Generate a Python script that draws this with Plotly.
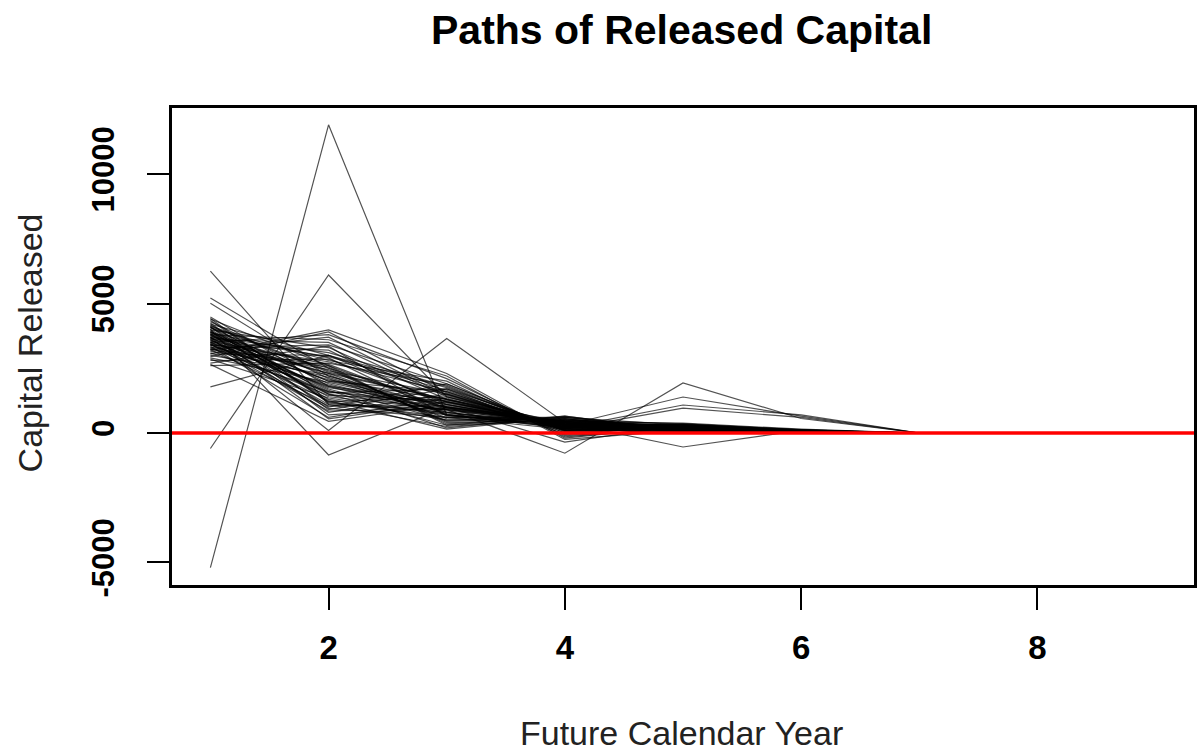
import plotly.graph_objects as go

# Future calendar years
years = [1, 2, 3, 4, 5, 6, 7, 8, 9]

# Capital released per simulated path, one list per year (same path index across lists)
year1 = [-5200, -600, 6250, 1780, 3700, 4000, 5210, 5010, 3600, 3900, 3400, 4100, 3500, 3800,
         4480, 4400, 4350, 4300, 4250, 4200, 4180, 4150, 4100, 4080, 4050, 4000, 3980, 3950, 3920,
         3900, 3870, 3850, 3820, 3800, 3780, 3750, 3720, 3700, 3680, 3650, 3620, 3600, 3580, 3550,
         3520, 3500, 3480, 3450, 3420, 3400, 3380, 3350, 3320, 3300, 3280, 3250, 3220, 3200, 3150,
         3100, 3050, 3000, 2950, 2900, 2800, 2700, 2600, 4420, 4120, 3880, 3660, 3440, 3240, 3060,
         2850, 2650]
year2 = [11900, 6100, 1100, 3000, 100, -850, 2500, 2200, 1500, 2000, 1800, 1200, 2300, 1600,
         1800, 2600, 1200, 2100, 900, 3000, 1500, 2400, 700, 1900, 2800, 1300, 3300, 1000, 2200,
         1650, 2900, 550, 2000, 3600, 1400, 2500, 800, 3100, 1750, 2300, 1100, 3500, 1550, 2650,
         950, 3800, 2050, 1250, 2750, 1850, 3200, 600, 2450, 1450, 3400, 2150, 1050, 3700, 2550,
         1600, 3000, 2250, 3900, 1950, 2850, 3350, 2700, 1150, 2350, 1700, 2950, 850, 2600, 3980,
         1350, 450]
year3 = [700, 1400, 900, 1500, 3650, 1000, 1200, 800, 900, 1100, 700, 600, 1300, 1000,
         1200, 900, 1400, 600, 1700, 1100, 300, 1500, 1000, 800, 2000, 500, 1300, 1900, 1000,
         200, 700, 1200, 1600, 2200, 900, 400, 1500, 1800, 1100, 700, 250, 1400, 1700, 950,
         600, 2100, 1300, 150, 1600, 850, 1000, 1350, 450, 1250, 1900, 750, 1050, 1450, 350,
         1150, 1750, 550, 1550, 1000, 1200, 650, 1850, 800, 1300, 500, 1650, 950, 300, 2300,
         700, 1100]
year4 = [250, 350, 300, 200, 400, 300, 300, 200, -780, 300, 200, 150, 400, -350,
         300, 450, 150, 600, 200, 350, 500, 100, 400, 250, -150, 550, 300, 50, 450,
         650, 200, 350, 100, -250, 400, 500, 150, 0, 300, 450, 550, 250, -50, 350,
         500, -100, 200, 600, 100, 400, 300, 150, 550, 250, 50, 450, 350, 200, 600,
         300, 100, 500, 150, 400, 250, 450, 0, 350, 200, 550, 100, 400, 650, -200,
         300, 250]
year5 = [150, 200, 100, 150, 200, 100, 100, 150, 1930, 1390, 1080, 960, -540, 300,
         150, 250, 100, 300, 200, 50, 350, 180, 120, 280, 220, 80, 320, 160, 240,
         60, 200, 140, 260, 100, 300, 180, 40, 220, 160, 380, 120, 240, 90, 200,
         270, 150, 330, 110, 190, 230, 70, 290, 170, 130, 250, 210, 60, 310, 150,
         180, 100, 270, 220, 140, 350, 80, 200, 160, 240, 120, 300, 190, 90, 260,
         130, 210]
year6 = [50, 50, 30, 50, 50, 0, 50, 0, 560, 650, 700, 600, 100, 50,
         40, 80, 20, 100, 60, 10, 120, 50, 30, 90, 70, 20, 110, 40, 80,
         10, 60, 30, 90, 20, 100, 50, 0, 70, 40, 150, 30, 80, 20, 60,
         90, 40, 120, 30, 50, 70, 10, 100, 50, 30, 80, 60, 10, 110, 40,
         50, 20, 90, 70, 40, 130, 20, 60, 50, 80, 30, 100, 60, 20, 90,
         30, 70]
year7 = [0, 0, 0, 0, 0, 0, 0, 0, 0, 0, 0, 0, 0, 0, 0, 0, 0, 0, 0, 0, 0, 0, 0, 0, 0, 0,
         0, 0, 0, 0, 0, 0, 0, 0, 0, 0, 0, 0, 0, 0, 0, 0, 0, 0, 0, 0, 0, 0, 0, 0, 0, 0,
         0, 0, 0, 0, 0, 0, 0, 0, 0, 0, 0, 0, 0, 0, 0, 0, 0, 0, 0, 0, 0, 0, 0, 0]
year8 = list(year7)
year9 = list(year7)

x_ticks = [2, 4, 6, 8]
y_ticks = [-5000, 0, 5000, 10000]
y_tick_labels = ["-5000", "0", "5000", "10000"]

title_text = "Paths of Released Capital"
x_title = "Future Calendar Year"
y_title = "Capital Released"

FONT = "Liberation Sans, Arial, Helvetica, sans-serif"

fig = go.Figure()
all_years = [year1, year2, year3, year4, year5, year6, year7, year8, year9]
for i in range(len(year1)):
    path = [col[i] for col in all_years]
    fig.add_trace(go.Scatter(
        x=years, y=path, mode="lines",
        line=dict(color="rgba(0,0,0,0.68)", width=1.2),
        hoverinfo="skip", showlegend=False,
    ))

fig.add_hline(y=0, line=dict(color="#ff0000", width=3.5), layer="above")

W, H = 1197, 753
L, R, T, B = 172, 0, 108, 168
pw = W - L - R
ph = H - T - B


def px_to_paper_x(px):
    return (px - L) / pw


def px_to_paper_y(py):
    return (H - B - py) / ph


fig.update_layout(
    width=W, height=H,
    margin=dict(l=L, r=R, t=T, b=B, pad=0),
    paper_bgcolor="white", plot_bgcolor="white",
    font=dict(family=FONT, color="black"),
    showlegend=False,
)

fig.update_xaxes(
    range=[0.675, 9.325], tickvals=x_ticks, ticktext=[str(v) for v in x_ticks],
    showgrid=False, zeroline=False,
    showline=True, linecolor="black", linewidth=3, mirror=True,
    ticks="outside", ticklen=22, tickwidth=2, tickcolor="black",
    tickfont=dict(family=FONT, size=33, color="black", weight="bold"),
    ticklabelstandoff=9,
)
fig.update_yaxes(
    range=[-5870, 12550], tickvals=y_ticks, ticktext=y_tick_labels,
    showgrid=False, zeroline=False,
    showline=True, linecolor="black", linewidth=3, mirror=True,
    ticks="outside", ticklen=22, tickwidth=2, tickcolor="black",
    tickangle=-90,
    tickfont=dict(family=FONT, size=31, color="black", weight="bold"),
    ticklabelstandoff=21,
)

fig.add_annotation(
    text="<b>" + title_text + "</b>", xref="paper", yref="paper",
    x=px_to_paper_x(683), y=px_to_paper_y(30), xanchor="center", yanchor="middle",
    showarrow=False, font=dict(family=FONT, size=41, color="black"),
)
fig.add_annotation(
    text=x_title, xref="paper", yref="paper",
    x=px_to_paper_x(683), y=px_to_paper_y(733), xanchor="center", yanchor="middle",
    showarrow=False, font=dict(family=FONT, size=34, color="#222222"),
)
fig.add_annotation(
    text=y_title, xref="paper", yref="paper",
    x=px_to_paper_x(30), y=px_to_paper_y(343), xanchor="center", yanchor="middle",
    textangle=-90, showarrow=False, font=dict(family=FONT, size=34, color="#222222"),
)

fig.write_html("out.html", config={"displayModeBar": False})

# remove the browser's default page margin so the figure sits at the window's top-left
with open("out.html", "r", encoding="utf-8") as f:
    html = f.read()
html = html.replace("<head>", "<head><style>html,body{margin:0;padding:0;overflow:hidden;}</style>", 1)
with open("out.html", "w", encoding="utf-8") as f:
    f.write(html)
